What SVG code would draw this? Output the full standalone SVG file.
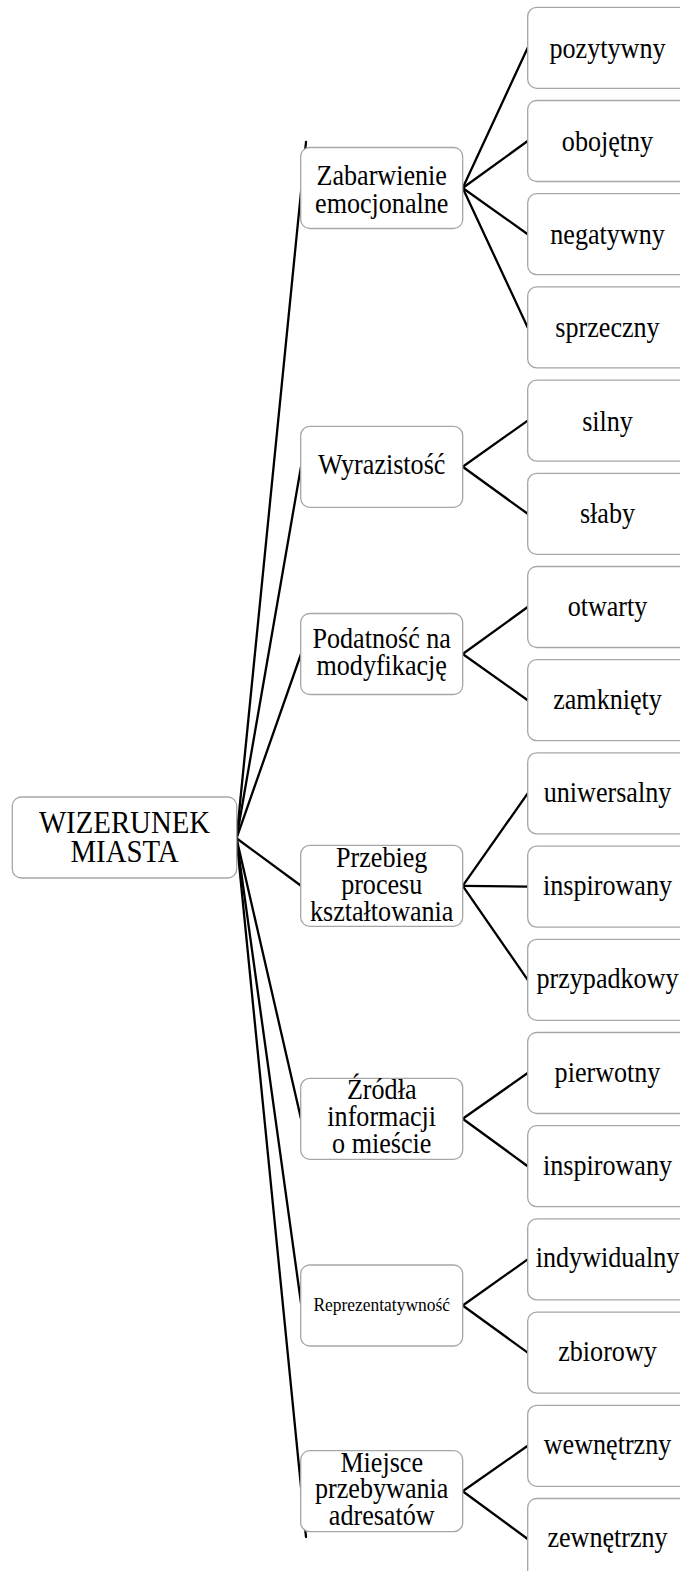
<svg xmlns="http://www.w3.org/2000/svg" width="680" height="1571" viewBox="0 0 680 1571">
<style>
.box{fill:#fff;stroke:#a6a6a6;stroke-width:1.3}
.ln{stroke:#000;stroke-width:2.3;fill:none;stroke-linecap:round}
.t{font-family:'Liberation Serif','DejaVu Serif',serif;font-size:30px;fill:#000;text-anchor:middle}
.r{font-size:32px}
.s{font-size:18px}
</style>
<rect width="680" height="1571" fill="#fff"/>
<g id="connectors">
<line class="ln" x1="236.5" y1="838.3" x2="306" y2="142"/>
<line class="ln" x1="236.5" y1="838.3" x2="301" y2="466.8"/>
<line class="ln" x1="236.5" y1="838.3" x2="301" y2="654"/>
<line class="ln" x1="236.5" y1="838.3" x2="301" y2="885.8"/>
<line class="ln" x1="236.5" y1="838.3" x2="301" y2="1118.8"/>
<line class="ln" x1="236.5" y1="838.3" x2="301" y2="1303"/>
<line class="ln" x1="236.5" y1="838.3" x2="306" y2="1537"/>
<line class="ln" x1="462.7" y1="188" x2="527.7" y2="47.8"/>
<line class="ln" x1="462.7" y1="188" x2="527.7" y2="141"/>
<line class="ln" x1="462.7" y1="188" x2="527.7" y2="234.2"/>
<line class="ln" x1="462.7" y1="188" x2="527.7" y2="327.4"/>
<line class="ln" x1="462.7" y1="466.8" x2="527.7" y2="420.6"/>
<line class="ln" x1="462.7" y1="466.8" x2="527.7" y2="513.8"/>
<line class="ln" x1="462.7" y1="654" x2="527.7" y2="607"/>
<line class="ln" x1="462.7" y1="654" x2="527.7" y2="700.2"/>
<line class="ln" x1="462.7" y1="885.8" x2="527.7" y2="793.4"/>
<line class="ln" x1="462.7" y1="885.8" x2="527.7" y2="886.6"/>
<line class="ln" x1="462.7" y1="885.8" x2="527.7" y2="979.8"/>
<line class="ln" x1="462.7" y1="1118.8" x2="527.7" y2="1073"/>
<line class="ln" x1="462.7" y1="1118.8" x2="527.7" y2="1166.2"/>
<line class="ln" x1="462.7" y1="1305.5" x2="527.7" y2="1259.4"/>
<line class="ln" x1="462.7" y1="1305.5" x2="527.7" y2="1352.6"/>
<line class="ln" x1="462.7" y1="1491.2" x2="527.7" y2="1445.8"/>
<line class="ln" x1="462.7" y1="1491.2" x2="527.7" y2="1539"/>
</g>
<g id="root">
<rect class="box" x="12.3" y="797" width="224.4" height="81" rx="9"/>
<text class="t r" font-family="Liberation Serif, serif" transform="translate(124.5,833.3) scale(0.9,1)">WIZERUNEK</text>
<text class="t r" font-family="Liberation Serif, serif" transform="translate(124.5,861.7) scale(0.9,1)">MIASTA</text>
</g>
<g id="n-zabarwienie">
<rect class="box" x="300.7" y="147.5" width="162" height="81" rx="9"/>
<text class="t" transform="translate(381.7,185) scale(0.87,1)">Zabarwienie</text>
<text class="t" transform="translate(381.7,213.3) scale(0.87,1)">emocjonalne</text>
</g>
<g id="n-wyrazistosc">
<rect class="box" x="300.7" y="426.3" width="162" height="81" rx="9"/>
<text class="t" transform="translate(381.7,474) scale(0.87,1)">Wyrazistość</text>
</g>
<g id="n-podatnosc">
<rect class="box" x="300.7" y="613.5" width="162" height="81" rx="9"/>
<text class="t" transform="translate(381.7,648.3) scale(0.87,1)">Podatność na</text>
<text class="t" transform="translate(381.7,675) scale(0.87,1)">modyfikację</text>
</g>
<g id="n-przebieg">
<rect class="box" x="300.7" y="845.3" width="162" height="81" rx="9"/>
<text class="t" transform="translate(381.7,866.7) scale(0.87,1)">Przebieg</text>
<text class="t" transform="translate(381.7,894) scale(0.87,1)">procesu</text>
<text class="t" transform="translate(381.7,921) scale(0.87,1)">kształtowania</text>
</g>
<g id="n-zrodla">
<rect class="box" x="300.7" y="1078.3" width="162" height="81" rx="9"/>
<text class="t" transform="translate(381.7,1099.3) scale(0.87,1)">Źródła</text>
<text class="t" transform="translate(381.7,1126) scale(0.87,1)">informacji</text>
<text class="t" transform="translate(381.7,1153.3) scale(0.87,1)">o mieście</text>
</g>
<g id="n-reprezentatywnosc">
<rect class="box" x="300.7" y="1265" width="162" height="81" rx="9"/>
<text class="t s" transform="translate(381.7,1311) scale(0.97,1)">Reprezentatywność</text>
</g>
<g id="n-miejsce">
<rect class="box" x="300.7" y="1450.7" width="162" height="81" rx="9"/>
<text class="t" transform="translate(381.7,1471.7) scale(0.87,1)">Miejsce</text>
<text class="t" transform="translate(381.7,1498.3) scale(0.87,1)">przebywania</text>
<text class="t" transform="translate(381.7,1525) scale(0.87,1)">adresatów</text>
</g>
<g id="c-pozytywny"><rect class="box" x="527.7" y="7.3" width="162" height="81" rx="9"/><text class="t" transform="translate(607.5,57.5) scale(0.87,1)">pozytywny</text></g>
<g id="c-obojetny"><rect class="box" x="527.7" y="100.5" width="162" height="81" rx="9"/><text class="t" transform="translate(607.5,150.5) scale(0.87,1)">obojętny</text></g>
<g id="c-negatywny"><rect class="box" x="527.7" y="193.7" width="162" height="81" rx="9"/><text class="t" transform="translate(607.5,243.7) scale(0.87,1)">negatywny</text></g>
<g id="c-sprzeczny"><rect class="box" x="527.7" y="286.9" width="162" height="81" rx="9"/><text class="t" transform="translate(607.5,336.9) scale(0.87,1)">sprzeczny</text></g>
<g id="c-silny"><rect class="box" x="527.7" y="380.1" width="162" height="81" rx="9"/><text class="t" transform="translate(607.5,430.6) scale(0.87,1)">silny</text></g>
<g id="c-slaby"><rect class="box" x="527.7" y="473.3" width="162" height="81" rx="9"/><text class="t" transform="translate(607.5,523.3) scale(0.87,1)">słaby</text></g>
<g id="c-otwarty"><rect class="box" x="527.7" y="566.5" width="162" height="81" rx="9"/><text class="t" transform="translate(607.5,616) scale(0.87,1)">otwarty</text></g>
<g id="c-zamkniety"><rect class="box" x="527.7" y="659.7" width="162" height="81" rx="9"/><text class="t" transform="translate(607.5,709.2) scale(0.87,1)">zamknięty</text></g>
<g id="c-uniwersalny"><rect class="box" x="527.7" y="752.9" width="162" height="81" rx="9"/><text class="t" transform="translate(607.5,802.4) scale(0.87,1)">uniwersalny</text></g>
<g id="c-inspirowany1"><rect class="box" x="527.7" y="846.1" width="162" height="81" rx="9"/><text class="t" transform="translate(607.5,895.3) scale(0.87,1)">inspirowany</text></g>
<g id="c-przypadkowy"><rect class="box" x="527.7" y="939.3" width="162" height="81" rx="9"/><text class="t" transform="translate(607.5,987.5) scale(0.87,1)">przypadkowy</text></g>
<g id="c-pierwotny"><rect class="box" x="527.7" y="1032.5" width="162" height="81" rx="9"/><text class="t" transform="translate(607.5,1082) scale(0.87,1)">pierwotny</text></g>
<g id="c-inspirowany2"><rect class="box" x="527.7" y="1125.7" width="162" height="81" rx="9"/><text class="t" transform="translate(607.5,1175.2) scale(0.87,1)">inspirowany</text></g>
<g id="c-indywidualny"><rect class="box" x="527.7" y="1218.9" width="162" height="81" rx="9"/><text class="t" transform="translate(607.5,1267.4) scale(0.87,1)">indywidualny</text></g>
<g id="c-zbiorowy"><rect class="box" x="527.7" y="1312.1" width="162" height="81" rx="9"/><text class="t" transform="translate(607.5,1360.6) scale(0.87,1)">zbiorowy</text></g>
<g id="c-wewnetrzny"><rect class="box" x="527.7" y="1405.3" width="162" height="81" rx="9"/><text class="t" transform="translate(607.5,1453.8) scale(0.87,1)">wewnętrzny</text></g>
<g id="c-zewnetrzny"><rect class="box" x="527.7" y="1498.5" width="162" height="81" rx="9"/><text class="t" transform="translate(607.5,1547) scale(0.87,1)">zewnętrzny</text></g>
</svg>
